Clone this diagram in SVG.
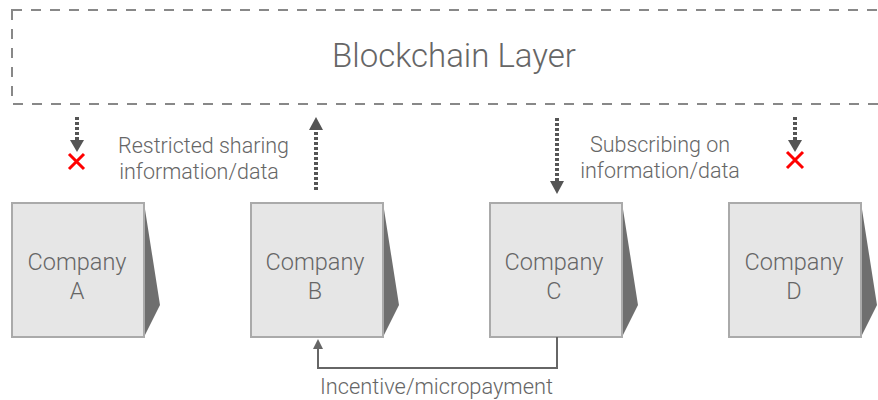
<svg xmlns="http://www.w3.org/2000/svg" width="878" height="400" viewBox="0 0 878 400">
<style>
.t{font-family:"Roboto","Liberation Sans",Arial,sans-serif;font-weight:300;fill:#666;text-anchor:middle}
.box{fill:#e6e6e6;stroke:#aaa;stroke-width:2}
.side{fill:#6f6f6f}
.dot{stroke:#555;stroke-width:4;stroke-dasharray:3 2;fill:none}
.x{stroke:#f00;stroke-width:3;fill:none}
</style>
<g id="blockchain">
<rect x="12" y="10" width="880" height="94" fill="none" stroke="#888" stroke-width="2" stroke-dasharray="10 9"/>
<text class="t" x="454" y="67" font-size="33">Blockchain Layer</text>
</g>
<g id="companyA">
<polygon class="side" points="144,203 160,305 144,337"/>
<rect class="box" x="12" y="203" width="132" height="134"/>
<text class="t" x="77" y="270" font-size="23.5">Company</text>
<text class="t" x="77" y="299" font-size="23.5">A</text>
</g>
<g id="companyB">
<polygon class="side" points="383,203 399,305 383,337"/>
<rect class="box" x="251" y="203" width="132" height="134"/>
<text class="t" x="315" y="270" font-size="23.5">Company</text>
<text class="t" x="315" y="299" font-size="23.5">B</text>
</g>
<g id="companyC">
<polygon class="side" points="622,203 638,305 622,337"/>
<rect class="box" x="490" y="203" width="132" height="134"/>
<text class="t" x="554" y="270" font-size="23.5">Company</text>
<text class="t" x="554" y="299" font-size="23.5">C</text>
</g>
<g id="companyD">
<polygon class="side" points="861,203 877,305 861,337"/>
<rect class="box" x="729" y="203" width="132" height="134"/>
<text class="t" x="794" y="270" font-size="23.5">Company</text>
<text class="t" x="794" y="299" font-size="23.5">D</text>
</g>
<g id="connectors">
<line class="dot" x1="77" y1="117" x2="77" y2="142"/>
<path d="M70,140 L84,140 L77,152 Z" fill="#555"/>
<path class="x" d="M69,154 L84,169 M84,154 L69,169"/>
<line class="dot" x1="316" y1="190" x2="316" y2="128"/>
<path d="M309,130 L323,130 L316,117 Z" fill="#555"/>
<line class="dot" x1="557" y1="118" x2="557" y2="182"/>
<path d="M550,181 L564,181 L557,194 Z" fill="#555"/>
<line class="dot" x1="795" y1="117" x2="795" y2="142"/>
<path d="M788,140 L802,140 L795,152 Z" fill="#555"/>
<path class="x" d="M787,152 L803,168 M803,152 L787,168"/>
<polyline points="557,337 557,368 318,368 318,347" fill="none" stroke="#666" stroke-width="2"/>
<path d="M313,349 L323,349 L318,339 Z" fill="#666"/>
</g>
<g id="labels">
<text class="t" x="203.5" y="153" font-size="21.5">Restricted sharing</text>
<text class="t" x="199" y="179" font-size="21.5">information/data</text>
<text class="t" x="660" y="152" font-size="21.5">Subscribing on</text>
<text class="t" x="660" y="178" font-size="21.5">information/data</text>
<text class="t" x="436.5" y="394" font-size="21.8">Incentive/micropayment</text>
</g>
</svg>
